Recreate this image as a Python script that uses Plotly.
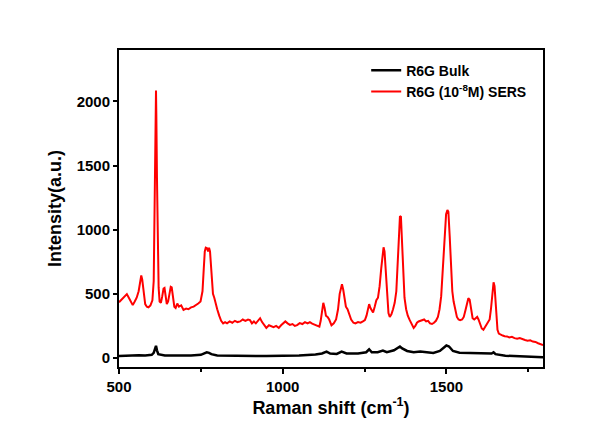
import plotly.graph_objects as go

# Raman shift (cm-1) and intensity
sers_x = [500, 506, 512, 518, 524, 530, 536, 542, 548, 554, 560, 565, 568, 571, 575, 580, 585, 590, 596, 602,
          606, 609, 611, 613, 614, 616, 617, 619, 621, 624, 628, 632, 636, 639, 642, 646, 650, 655, 658, 661,
          665, 669, 673, 678, 683, 690, 697, 705, 712, 720, 728, 735, 742, 749, 755, 759, 762, 765, 769, 772,
          775, 778, 781, 784, 787, 791, 795, 800, 806, 812, 818, 824, 830, 838, 846, 854, 862, 870, 878, 886,
          894, 900, 906, 912, 918, 925, 931, 937, 943, 950, 958, 965, 972, 980, 988, 995, 1002, 1008, 1015, 1022,
          1030, 1037, 1044, 1052, 1060, 1068, 1076, 1083, 1090, 1098, 1106, 1112, 1116, 1120, 1124, 1128, 1132, 1137, 1142, 1149,
          1156, 1163, 1169, 1174, 1178, 1181, 1185, 1189, 1193, 1198, 1203, 1209, 1216, 1222, 1230, 1238, 1245, 1251, 1256, 1261,
          1264, 1268, 1272, 1276, 1281, 1286, 1291, 1296, 1301, 1305, 1308, 1311, 1315, 1319, 1323, 1327, 1332, 1337, 1342, 1347,
          1351, 1355, 1358, 1361, 1364, 1368, 1372, 1377, 1382, 1388, 1394, 1400, 1405, 1410, 1415, 1420, 1426, 1432, 1438, 1444,
          1450, 1456, 1462, 1468, 1474, 1479, 1484, 1489, 1494, 1499, 1503, 1506, 1510, 1514, 1518, 1522, 1527, 1532, 1537, 1542,
          1548, 1553, 1558, 1563, 1567, 1571, 1575, 1580, 1585, 1590, 1594, 1598, 1603, 1608, 1613, 1618, 1623, 1628, 1632, 1636,
          1640, 1644, 1647, 1650, 1653, 1656, 1660, 1666, 1672, 1678, 1685, 1692, 1700, 1708, 1716, 1724, 1732, 1740, 1748, 1756,
          1764, 1772, 1780, 1788, 1795]
sers_y = [434, 450, 470, 490, 498, 470, 440, 412, 440, 470, 520, 600, 643, 610, 500, 420, 400, 395, 410, 450,
          600, 1100, 1700, 2085, 1900, 1400, 1150, 800, 550, 440, 430, 480, 540, 545, 470, 420, 440, 500, 555, 550,
          450, 400, 390, 425, 400, 410, 375, 385, 380, 395, 400, 410, 425, 440, 520, 700, 830, 860, 855, 830,
          860, 830, 700, 560, 500, 470, 420, 380, 330, 290, 270, 280, 270, 285, 275, 290, 280, 285, 300, 290,
          300, 295, 270, 285, 270, 290, 310, 280, 260, 235, 255, 245, 240, 250, 235, 255, 270, 285, 270, 258,
          265, 250, 256, 272, 265, 280, 270, 280, 268, 260, 250, 245, 290, 380, 430, 390, 330, 320, 300, 255,
          270, 300, 380, 500, 560, 574, 530, 440, 400, 380, 340, 300, 275, 270, 280, 275, 285, 295, 330, 400,
          420, 390, 370, 355, 400, 450, 470, 560, 700, 830, 863, 830, 650, 450, 350, 320, 340, 380, 430, 520,
          700, 950, 1100, 1105, 950, 650, 470, 380, 330, 295, 260, 235, 250, 275, 285, 290, 295, 300, 285, 290,
          270, 265, 275, 290, 320, 380, 480, 700, 950, 1120, 1153, 1140, 950, 700, 520, 440, 370, 320, 300, 295,
          300, 320, 370, 440, 465, 455, 380, 310, 300, 310, 320, 300, 265, 230, 220, 240, 260, 280, 300, 380,
          500, 590, 560, 440, 300, 220, 190, 180, 175, 170, 168, 160, 165, 155, 150, 155, 145, 140, 135, 138,
          128, 125, 115, 110, 100]

bulk_x = [500, 520, 540, 560, 580, 600, 606, 610, 613, 616, 620, 640, 680, 720, 750, 760, 768, 775, 782, 800,
          850, 900, 950, 1000, 1050, 1100, 1120, 1134, 1145, 1165, 1180, 1195, 1230, 1255, 1264, 1272, 1290, 1306, 1318, 1340,
          1350, 1358, 1365, 1380, 1400, 1420, 1440, 1460, 1480, 1492, 1500, 1508, 1520, 1540, 1560, 1580, 1600, 1620, 1638, 1644,
          1650, 1680, 1720, 1760, 1795]
bulk_y = [15, 18, 20, 22, 20, 25, 40, 80, 95, 60, 30, 20, 18, 20, 25, 35, 45, 40, 30, 20,
          18, 18, 15, 18, 20, 28, 35, 50, 35, 32, 50, 35, 35, 45, 68, 45, 45, 58, 45, 60,
          80, 90, 75, 55, 45, 50, 45, 40, 55, 80, 98, 90, 55, 42, 40, 38, 35, 32, 35, 45,
          30, 18, 12, 8, 5]

x_ticks = [500, 1000, 1500]
y_ticks = [0, 500, 1000, 1500, 2000]

font = "Liberation Sans, Arial, sans-serif"

fig = go.Figure()
fig.add_trace(go.Scatter(x=bulk_x, y=bulk_y, mode="lines", name="<b>R6G Bulk</b>",
                         line=dict(color="black", width=2.5)))
fig.add_trace(go.Scatter(x=sers_x, y=sers_y, mode="lines", name="<b>R6G (10<sup>-8</sup>M) SERS</b>",
                         line=dict(color="#ff0000", width=2)))

fig.update_layout(
    width=600, height=418,
    margin=dict(l=111, r=65, t=42, b=59),
    paper_bgcolor="white", plot_bgcolor="white",
    font=dict(family=font, color="black"),
    showlegend=True,
    legend=dict(x=0.583, y=0.985, xanchor="left", yanchor="top",
                font=dict(size=14, family=font, color="black"),
                bgcolor="rgba(0,0,0,0)", tracegroupgap=0),
    xaxis=dict(range=[500, 1795], tickvals=x_ticks, ticktext=[f"<b>{v}</b>" for v in x_ticks],
               showline=True, linecolor="black", linewidth=2, mirror=True,
               ticks="outside", ticklen=5, tickwidth=1.5, tickcolor="black",
               minor=dict(tickvals=[750, 1250, 1750], ticks="outside", ticklen=3, tickwidth=1.5, tickcolor="black"),
               showgrid=False, zeroline=False,
               tickfont=dict(size=15, family=font),
               title=dict(text="<b>Raman shift (cm<sup>-1</sup>)</b>", font=dict(size=18, family=font), standoff=6)),
    yaxis=dict(range=[-70, 2400], tickvals=y_ticks, ticktext=[f"<b>{v}</b>" for v in y_ticks],
               showline=True, linecolor="black", linewidth=2, mirror=True,
               ticks="outside", ticklen=4, tickwidth=1.5, tickcolor="black",
               showgrid=False, zeroline=False,
               tickfont=dict(size=15, family=font),
               title=dict(text="<b>Intensity(a.u.)</b>", font=dict(size=18, family=font), standoff=10)),
)

fig.write_html("out.html")
